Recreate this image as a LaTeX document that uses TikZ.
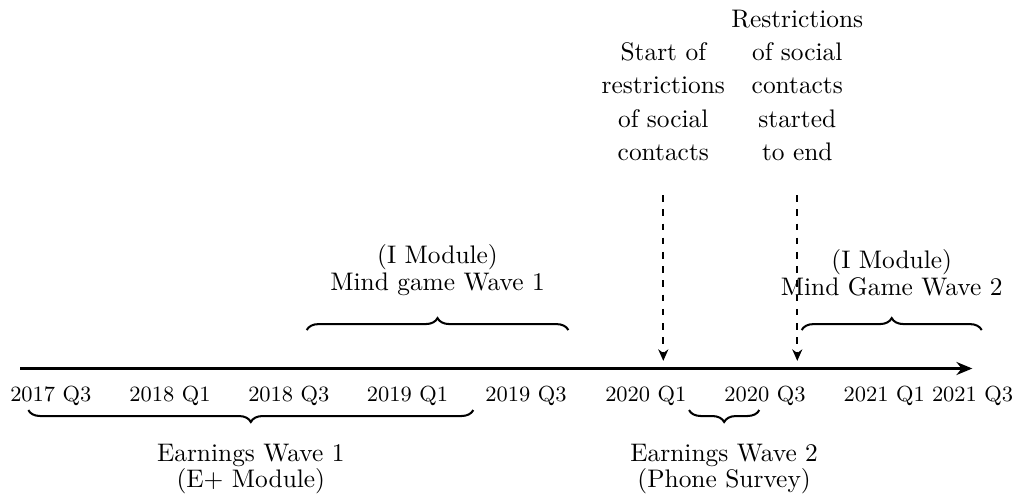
\documentclass[tikz,border=0pt]{standalone}
\usetikzlibrary{arrows.meta, positioning, decorations.pathreplacing}
\tikzset{
  every picture/.style={line width=0.8pt},
  timeline/.style={-{Stealth[length=2.2mm, width=1.8mm]}, line width=0.95pt},
  event/.style={-{Stealth[length=1.6mm, width=1.4mm]}, dash pattern=on 2.6pt off 3pt, line width=0.7pt, shorten >=3pt},
  wavebrace/.style={decorate, decoration={brace, amplitude=4.7pt}, line width=0.8pt},
  qtr/.style={font=\fontsize{8.6}{10}\selectfont, anchor=base},
  wave/.style={font=\fontsize{10}{10.4}\selectfont, align=center},
  note/.style={font=\fontsize{10}{13.1}\selectfont, align=center},
}

\begin{document}
\begin{tikzpicture}
  \useasboundingbox (0,0) rectangle (14.086,6.822);
  % time axis
  \coordinate (ax0) at (0.277,1.723);
  \coordinate (ax1) at (13.454,1.723);
  \draw[timeline] (ax0) -- (ax1);
  \foreach \q/\x [count=\i] in {2017 Q3/0.703, 2018 Q1/2.352, 2018 Q3/3.996, 2019 Q1/5.639,
      2019 Q3/7.278, 2020 Q1/8.936, 2020 Q3/10.585, 2021 Q1/12.235, 2021 Q3/13.457}
    \node[qtr] (q\i) at (\x,1.263) {\q};
  % mind game waves (above)
  \coordinate (mg1a) at (4.244,2.255);
  \coordinate (mg1b) at (7.864,2.255);
  \draw[wavebrace] (mg1a) -- node[wave, above=0.345cm] (mg1) {(I Module)\\Mind game Wave 1} (mg1b);
  \coordinate (mg2a) at (11.093,2.255);
  \coordinate (mg2b) at (13.584,2.255);
  \draw[wavebrace] (mg2a) -- node[wave, above=0.345cm] (mg2) {(I Module)\\Mind Game Wave 2} (mg2b);
  % earnings waves (below)
  \coordinate (ew1a) at (0.392,1.148);
  \coordinate (ew1b) at (6.549,1.148);
  \draw[wavebrace] (ew1b) -- node[wave, below=0.335cm] (ew1) {Earnings Wave 1\\(E+ Module)} (ew1a);
  \coordinate (ew2a) at (9.534,1.148);
  \coordinate (ew2b) at (10.506,1.148);
  \draw[wavebrace] (ew2b) -- node[wave, below=0.335cm] (ew2) {Earnings Wave 2\\(Phone Survey)} (ew2a);
  % restrictions of social contacts
  \coordinate (ev1) at (9.178,4.123);
  \coordinate (ev2) at (11.032,4.123);
  \node[note, above=0.344cm of ev1] (restr) {Start of\\restrictions\\of social\\contacts};
  \node[note, above=0.344cm of ev2] (relax) {Restrictions\\of social\\contacts\\started\\to end};
  \draw[event] (ev1) -- (ev1 |- ax0);
  \draw[event] (ev2) -- (ev2 |- ax0);
\end{tikzpicture}
\end{document}
